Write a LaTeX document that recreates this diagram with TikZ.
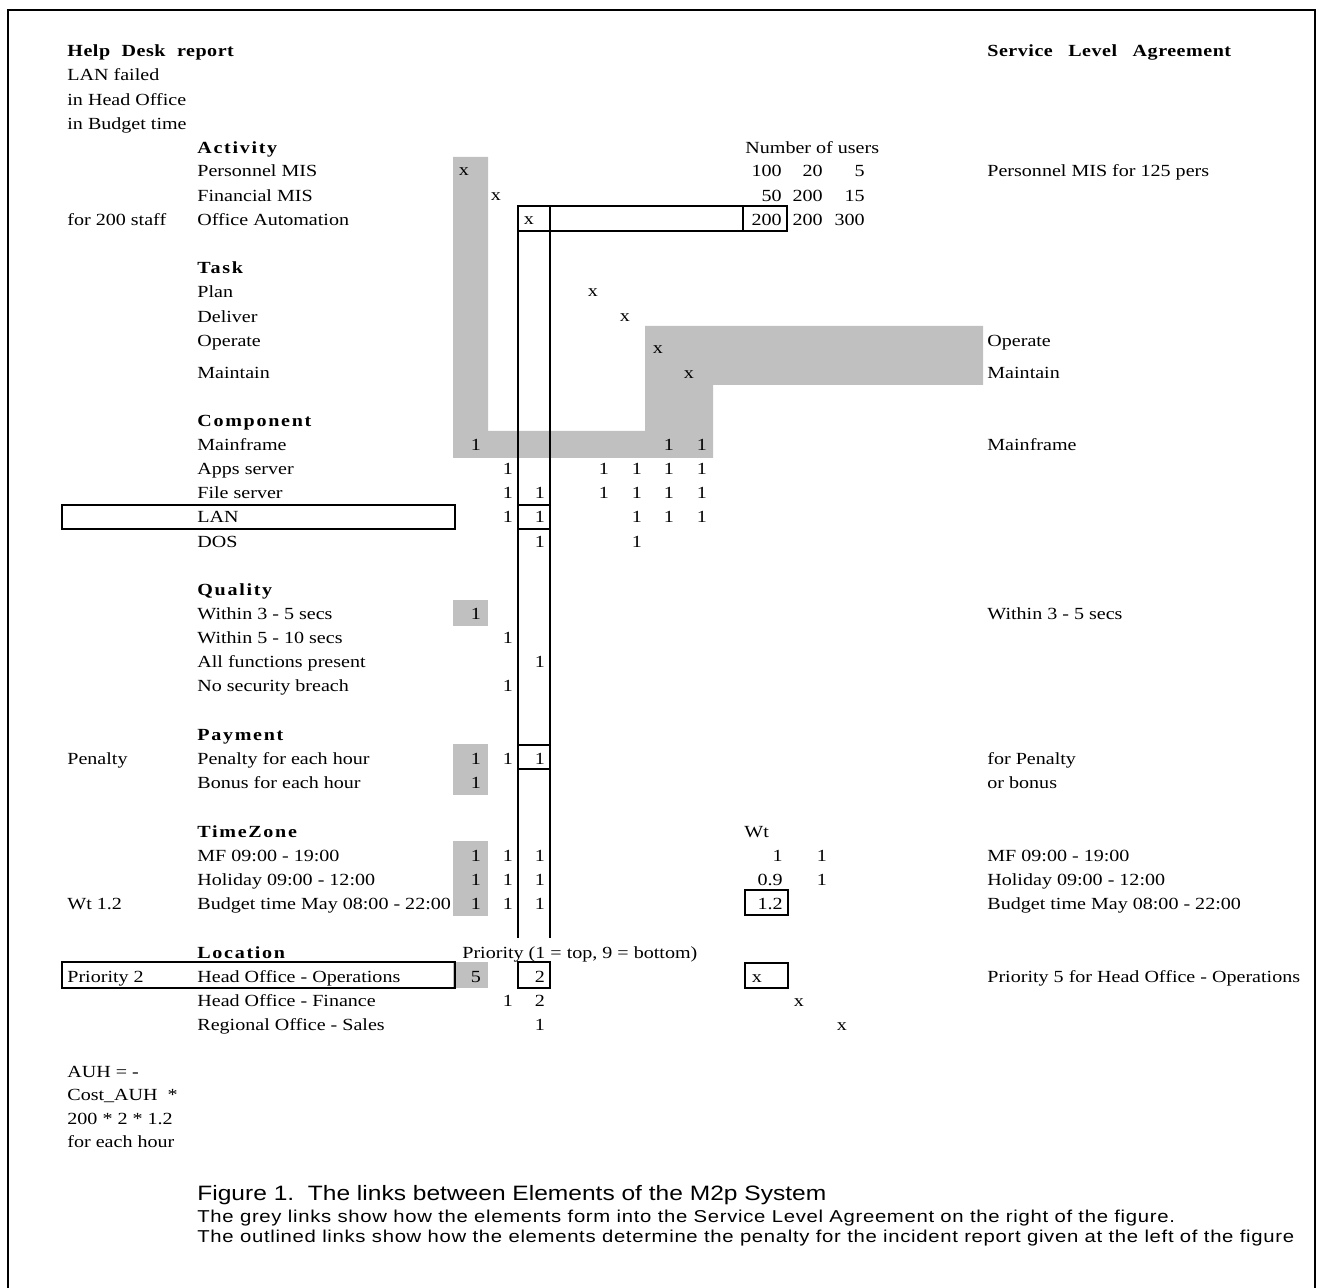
\documentclass[tikz,border=0pt]{standalone}
\usepackage{fontspec}
\setmainfont[FakeStretch=1.18]{Liberation Serif}
\newfontfamily\hdfont[FakeStretch=1.18,LetterSpace=10]{Liberation Serif}
\newfontfamily\ttlfont[FakeStretch=1.18,LetterSpace=3]{Liberation Serif}
\newfontfamily\capfont[FakeStretch=1.18]{Liberation Sans}
\newfontfamily\notefont[FakeStretch=1.18,LetterSpace=4]{Liberation Sans}
\definecolor{linkgrey}{RGB}{192,192,192}

\begin{document}
\begin{tikzpicture}[x=0.5pt,y=-0.5pt,
  txt/.style={anchor=base west,inner sep=0pt,font=\fontsize{8.5}{10}\selectfont},
  hdr/.style={txt,font=\fontsize{8.5}{10}\hdfont\bfseries},
  num/.style={anchor=base,inner sep=0pt,font=\fontsize{8.5}{10}\selectfont},
  rnum/.style={anchor=base east,inner sep=0pt,font=\fontsize{8.5}{10}\selectfont},
  captxt/.style={anchor=base west,inner sep=0pt},
  greylink/.style={fill=linkgrey,draw=none},
  outlink/.style={draw,line width=1pt}]
  \useasboundingbox (0,0) rectangle (1319,1288);
  \draw[line width=1pt] (8,1300) |- (1315,10) -- (1315,1300);

  % grey links
  \fill[greylink] (453,157) -- (488,157) -- (488,431) -- (645,431) -- (645,326)
    -- (983,326) -- (983,385) -- (713,385) -- (713,458) -- (453,458) -- cycle;
  \fill[greylink] (453,600) rectangle (488,626);
  \fill[greylink] (453,744) rectangle (488,795);
  \fill[greylink] (453,841) rectangle (488,916);
  \fill[greylink] (453,962) rectangle (488,988);

  % titles
  \node[txt,font=\fontsize{8.5}{10}\ttlfont\bfseries] (hdr) at (67,57) {Help\hspace{3pt} Desk\hspace{3pt} report};
  \node[txt,font=\fontsize{8.5}{10}\ttlfont\bfseries] (sla) at (987,57) {Service\hspace{5pt} Level\hspace{5pt} Agreement};

  % incident report (left)
  \foreach \y/\t [count=\i] in {81/LAN failed, 106/in Head Office, 130/in Budget time,
      226/for 200 staff, 765/Penalty, 910/Wt 1.2, 983/Priority 2,
      1078/AUH = -, 1101/Cost\_AUH\ \ *, 1124/200 * 2 * 1.2, 1147/for each hour}
    \node[txt] (rep\i) at (67,\y) {\t};

  % element groups
  \foreach \y/\t [count=\i] in {154/Activity, 274/Task, 427/Component, 596/Quality,
      741/Payment, 838/TimeZone, 959/Location}
    \node[hdr] (grp\i) at (197,\y) {\t};

  % elements
  \foreach \y/\t [count=\i] in {177/Personnel MIS, 202/Financial MIS, 226/Office Automation,
      298/Plan, 323/Deliver, 347/Operate, 379/Maintain,
      451/Mainframe, 475/Apps server, 499/File server, 523/LAN, 548/DOS,
      620/Within 3 - 5 secs, 644/Within 5 - 10 secs, 668/All functions present, 692/No security breach,
      765/Penalty for each hour, 789/Bonus for each hour,
      862/MF 09:00 - 19:00, 886/Holiday 09:00 - 12:00, 910/Budget time May 08:00 - 22:00,
      983/Head Office - Operations, 1007/Head Office - Finance, 1031/Regional Office - Sales}
    \node[txt] (el\i) at (197,\y) {\t};

  % service level agreement (right)
  \foreach \y/\t [count=\i] in {177/Personnel MIS for 125 pers, 347/Operate, 379/Maintain,
      451/Mainframe, 620/Within 3 - 5 secs, 765/for Penalty, 789/or bonus,
      862/MF 09:00 - 19:00, 886/Holiday 09:00 - 12:00, 910/Budget time May 08:00 - 22:00,
      983/Priority 5 for Head Office - Operations}
    \node[txt] (sl\i) at (987,\y) {\t};

  % column headings
  \node[txt] (users) at (745,154) {Number of users};
  \node[txt] (wt) at (744,838) {Wt};
  \node[txt] (prio) at (462,959) {Priority (1 = top, 9 = bottom)};

  % links
  \foreach \cx/\cy [count=\i] in {464/176, 496/201, 529/225, 593/297, 625/322, 658/354,
      689/379, 757/983, 799/1007, 842/1031}
    \node[num] (x\i) at (\cx,\cy) {x};
  \foreach \cx/\cy [count=\i] in {476/451, 669/451, 702/451,
      508/475, 604/475, 637/475, 669/475, 702/475,
      508/499, 540/499, 604/499, 637/499, 669/499, 702/499,
      508/523, 540/523, 637/523, 669/523, 702/523,
      540/548, 637/548, 476/620, 508/644, 540/668, 508/692,
      476/765, 508/765, 540/765, 476/789,
      476/862, 508/862, 540/862, 822/862,
      476/886, 508/886, 540/886, 822/886,
      476/910, 508/910, 540/910, 508/1007, 540/1031}
    \node[num] (one\i) at (\cx,\cy) {1};
  \node[num] (pr5) at (476,983) {5};
  \node[num] (pr2) at (540,983) {2};
  \node[num] (fin2) at (540,1007) {2};

  % numbers of users and weights
  \foreach \y/\a/\b/\c [count=\i] in {177/100/20/5, 202/50/200/15, 226/200/200/300} {
    \node[rnum] (ua\i) at (782,\y) {\a};
    \node[rnum] (ub\i) at (823,\y) {\b};
    \node[rnum] (uc\i) at (865,\y) {\c};
  }
  \foreach \y/\w [count=\i] in {862/1, 886/0.9, 910/1.2}
    \node[rnum] (w\i) at (783,\y) {\w};

  % outlined links
  \draw[outlink] (518,206) rectangle (787,231);
  \draw[outlink] (550,206) -- (550,231) (743,206) -- (743,231);
  \draw[outlink] (518,231) -- (518,938) (550,231) -- (550,938);
  \draw[outlink] (518,505) -- (550,505) (518,529) -- (550,529);
  \draw[outlink] (518,745) -- (550,745) (518,769) -- (550,769);
  \draw[outlink] (62,505) rectangle (455,529);
  \draw[outlink] (62,962) rectangle (455,988);
  \draw[outlink] (518,962) rectangle (550,988);
  \draw[outlink] (745,890) rectangle (788,915);
  \draw[outlink] (745,963) rectangle (788,988);

  % caption
  \node[captxt,font=\fontsize{10.4}{12}\capfont] (fig) at (197,1200)
    {Figure 1.\ \ The links between Elements of the M2p System};
  \node[captxt,font=\fontsize{8.6}{10}\notefont] (capa) at (197,1223)
    {The grey links show how the elements form into the Service Level Agreement on the right of the figure.};
  \node[captxt,font=\fontsize{8.6}{10}\notefont] (capb) at (197,1242)
    {The outlined links show how the elements determine the penalty for the incident report given at the left of the figure};
\end{tikzpicture}
\end{document}
